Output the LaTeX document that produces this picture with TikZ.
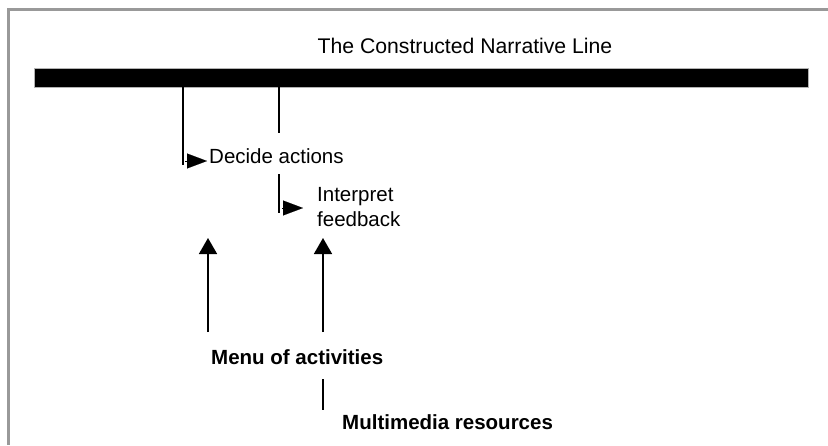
\documentclass[tikz,border=0pt]{standalone}
\usepackage{fontspec}
\setmainfont{Liberation Sans}
\usetikzlibrary{arrows.meta,positioning}
\tikzset{
  % tekst
  lbl/.style={inner sep=0pt,font=\fontsize{20.5}{25}\selectfont,align=left},
  lblbold/.style={inner sep=0pt,font=\fontsize{20.5}{25}\selectfont\bfseries},
  % the bar
  narbar/.style={draw=black!30,fill=black,rectangle,minimum width=774pt,minimum height=19pt,inner sep=0pt,line width=0.6pt},
  % kantar
  link/.style={line width=1.6pt},
  tipright/.style={-{Triangle[length=20pt,width=15pt]},line width=0.1pt},
  tipup/.style={-{Triangle[length=16pt,width=18pt]},line width=1.6pt},
  frame/.style={draw=black!40,line width=3pt},
}
\begin{document}
\begin{tikzpicture}[x=1pt,y=-1pt]
  \useasboundingbox (0,0) rectangle (828,445);
  \fill[white] (0,0) rectangle (828,445);
  \draw[frame] (828,9.5) -- (8.5,9.5) -- (8.5,445);

  \node[narbar] (narline) at (421,77.5) {};
  \node[lbl,font=\fontsize{21.2}{25}\selectfont] (title) at (465,46) {The Constructed Narrative Line};

  \node[lbl,anchor=west] (decide) at (209,156) {Decide actions};
  \node[lbl,anchor=west] (interp) at (317,207) {Interpret\\feedback};
  \node[lblbold,anchor=west] (menu) at (211,357) {Menu of activities};
  \node[lblbold,anchor=west] (media) at (342,422) {Multimedia resources};

  % from the line down to decide / interpret
  \coordinate (d-top) at (183,87);
  \coordinate (d-bot) at (183,165);
  \coordinate (d-tip) at (207,161);
  \coordinate (i-top) at (279,87);
  \coordinate (i-end) at (279,133);
  \coordinate (i-mid) at (279,174);
  \coordinate (i-bot) at (279,213);
  \coordinate (i-tip) at (303,208);
  \draw[link] (d-top) -- (d-bot);
  \draw[tipright] (185,161) -- (d-tip);
  \draw[link] (i-top) -- (i-end);
  \draw[link] (i-mid) -- (i-bot);
  \draw[tipright] (282,208) -- (i-tip);

  % up from the menu
  \draw[tipup] (208,332) -- (208,238);
  \draw[tipup] (323,332) -- (323,238);
  \draw[link] (323,379) -- (323,410);
\end{tikzpicture}
\end{document}
